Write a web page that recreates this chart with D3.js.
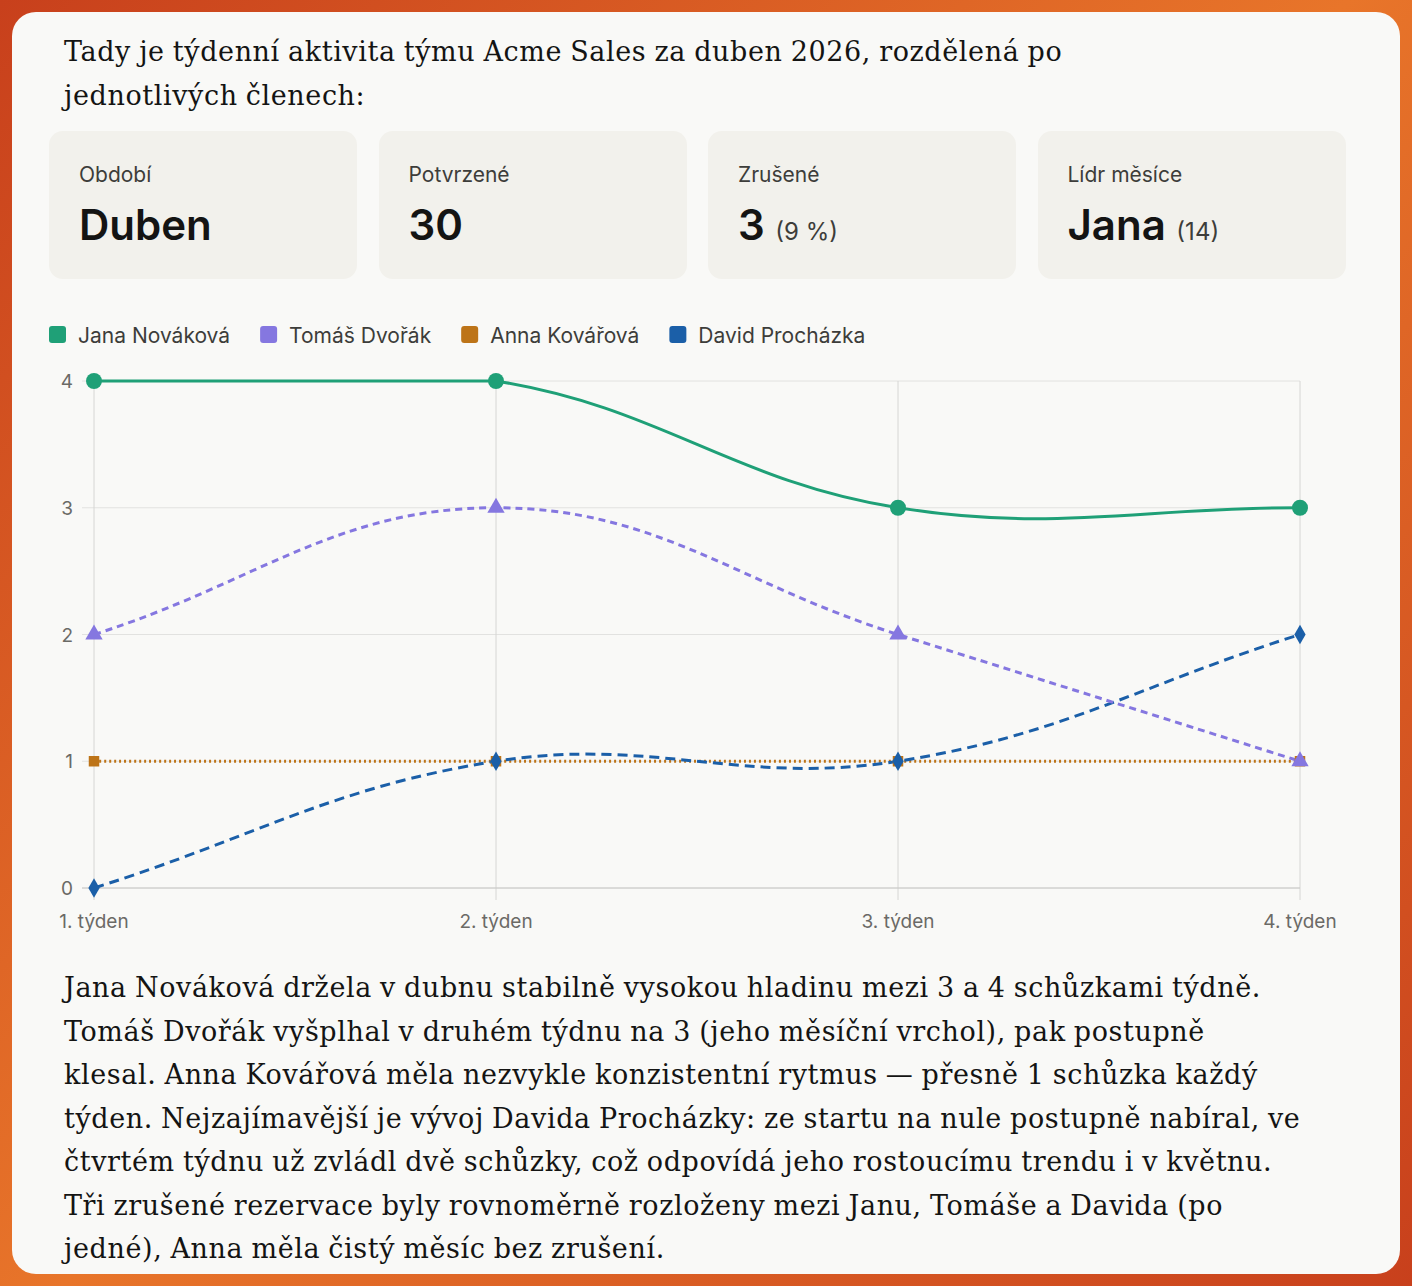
<!DOCTYPE html>
<html lang="cs">
<head>
<meta charset="UTF-8">
<script src="https://cdnjs.cloudflare.com/ajax/libs/d3/7.8.5/d3.min.js"></script>
<style>
  html, body { margin: 0; padding: 0; }
  body { width: 1412px; height: 1286px; background: linear-gradient(135deg, #c8401c, #e8752a 50%, #c8401c); position: relative; overflow: hidden; }
  .panel { position: absolute; left: 12px; top: 12px; width: 1388px; height: 1262px; background: #f9f9f7; border-radius: 24px; }
  .serif { font-family: "DejaVu Serif", serif; font-size: 27px; line-height: 43.5px; color: #141413; letter-spacing: 0.6px; word-spacing: -1px; }
  .intro { position: absolute; left: 52px; top: 18px; width: 1180px; }
  .outro { position: absolute; left: 52px; top: 954px; width: 1240px; }
  .card { position: absolute; top: 119px; width: 308px; height: 148px; background: #f2f1ec; border-radius: 14px; font-family: Inter, sans-serif; }
  .card .lab { position: absolute; left: 30px; top: 31px; font-size: 21px; color: #3d3d3a; }
  .card .val { position: absolute; left: 30px; top: 68px; font-size: 42px; font-weight: 600; color: #141413; }
  .card .val small { font-size: 24px; font-weight: 400; color: #3d3d3a; }
  svg { position: absolute; left: 0; top: 0; }
</style>
</head>
<body>
<div class="panel">
  <div class="serif intro">Tady je týdenní aktivita týmu Acme Sales za duben 2026, rozdělená po jednotlivých členech:</div>
  <div id="cards"></div>
  <div class="serif outro">Jana Nováková držela v dubnu stabilně vysokou hladinu mezi 3 a 4 schůzkami týdně. Tomáš Dvořák vyšplhal v druhém týdnu na 3 (jeho měsíční vrchol), pak postupně klesal. Anna Kovářová měla nezvykle konzistentní rytmus — přesně 1 schůzka každý týden. Nejzajímavější je vývoj Davida Procházky: ze startu na nule postupně nabíral, ve čtvrtém týdnu už zvládl dvě schůzky, což odpovídá jeho rostoucímu trendu i v květnu. Tři zrušené rezervace byly rovnoměrně rozloženy mezi Janu, Tomáše a Davida (po jedné), Anna měla čistý měsíc bez zrušení.</div>
</div>
<svg width="1412" height="1286"></svg>
<script>
const cardLabels = ["Období", "Potvrzené", "Zrušené", "Lídr měsíce"];
const cardValues = ["Duben", "30", "3", "Jana"];
const cardNotes = ["", "", "(9 %)", "(14)"];

const weeks = ["1. týden", "2. týden", "3. týden", "4. týden"];
const names = ["Jana Nováková", "Tomáš Dvořák", "Anna Kovářová", "David Procházka"];
const jana = [4, 4, 3, 3];
const tomas = [2, 3, 2, 1];
const anna = [1, 1, 1, 1];
const david = [0, 1, 1, 2];
const yTicks = [0, 1, 2, 3, 4];

const colors = ["#1fa077", "#8577e0", "#bd7418", "#1b5fa8"];
const dashes = [null, "7,5", "2,3", "10,6"];
const symbols = [d3.symbolCircle, d3.symbolTriangle, d3.symbolSquare, d3.symbolDiamond];
const symSize = [200, 130, 110, 110];
const series = [jana, tomas, anna, david];

const cards = d3.select("#cards").selectAll(".card").data(cardLabels).join("div")
  .attr("class", "card").style("left", (d, i) => (37 + i * 329.5) + "px");
cards.append("div").attr("class", "lab").text(d => d);
cards.append("div").attr("class", "val")
  .html((d, i) => cardValues[i] + (cardNotes[i] ? " <small>" + cardNotes[i] + "</small>" : ""));

const svg = d3.select("svg");
const x = d3.scalePoint().domain(weeks).range([94, 1300]);
const y = d3.scaleLinear().domain([0, 4]).range([888, 381]);

// legend
const lg = svg.append("g").attr("font-family", "Inter, sans-serif").attr("font-size", 21);
let lx = 49;
names.forEach((n, i) => {
  lg.append("rect").attr("x", lx).attr("y", 326).attr("width", 17).attr("height", 17).attr("rx", 3).attr("fill", colors[i]);
  const t = lg.append("text").attr("x", lx + 29).attr("y", 343).attr("fill", "#3d3d3a").text(n);
  lx += 29 + t.node().getComputedTextLength() + 30;
});

// grid
const grid = svg.append("g").attr("stroke", "#e2e2e0").attr("stroke-width", 1);
grid.selectAll(".h").data(yTicks).join("line")
  .attr("x1", 82).attr("x2", 1300).attr("y1", d => y(d)).attr("y2", d => y(d));
grid.selectAll(".v").data(weeks).join("line")
  .attr("x1", d => x(d)).attr("x2", d => x(d)).attr("y1", 381).attr("y2", 900)
  .attr("stroke", "#d6d6d4");
svg.append("line").attr("x1", 82).attr("x2", 1300).attr("y1", y(0)).attr("y2", y(0)).attr("stroke", "#c8c8c6");

const axisFont = g => g.attr("font-family", "Inter, sans-serif").attr("font-size", 19).attr("fill", "#6b6a66");
svg.append("g").call(axisFont).selectAll("text").data(yTicks).join("text")
  .attr("x", 73).attr("y", d => y(d) + 7).attr("text-anchor", "end").text(d => d);
svg.append("g").call(axisFont).selectAll("text").data(weeks).join("text")
  .attr("x", d => x(d)).attr("y", 928).attr("text-anchor", "middle").text(d => d);

// spline with tension 0.4, control points capped to the chart area
function splinePath(vals) {
  const top = y.range()[1], bot = y.range()[0];
  const pts = vals.map((v, i) => [x(weeks[i]), y(v)]);
  const t = 0.4, cps = [];
  pts.forEach((p, i) => {
    const a = pts[i - 1] || p, b = pts[i + 1] || p;
    const d01 = Math.hypot(p[0] - a[0], p[1] - a[1]), d12 = Math.hypot(b[0] - p[0], b[1] - p[1]);
    let s01 = d01 / (d01 + d12 || 1), s12 = d12 / (d01 + d12 || 1);
    const fa = t * s01, fb = t * s12;
    const cap = v => Math.max(top, Math.min(bot, v));
    cps.push({
      prev: [p[0] - fa * (b[0] - a[0]), cap(p[1] - fa * (b[1] - a[1]))],
      next: [p[0] + fb * (b[0] - a[0]), cap(p[1] + fb * (b[1] - a[1]))]
    });
  });
  const path = d3.path();
  path.moveTo(pts[0][0], pts[0][1]);
  for (let i = 1; i < pts.length; i++) {
    path.bezierCurveTo(cps[i - 1].next[0], cps[i - 1].next[1], cps[i].prev[0], cps[i].prev[1], pts[i][0], pts[i][1]);
  }
  return path.toString();
}

const lines = svg.append("g");
[2, 3, 1, 0].forEach(i => {
  lines.append("path").attr("d", splinePath(series[i])).attr("fill", "none")
    .attr("stroke", colors[i]).attr("stroke-width", 3).attr("stroke-dasharray", dashes[i]);
});
[2, 3, 1, 0].forEach(i => {
  svg.append("g").selectAll("path").data(series[i]).join("path")
    .attr("transform", (d, j) => `translate(${x(weeks[j])},${y(d)})`)
    .attr("d", d3.symbol().type(symbols[i]).size(symSize[i]))
    .attr("fill", colors[i]);
});
</script>
</body>
</html>
